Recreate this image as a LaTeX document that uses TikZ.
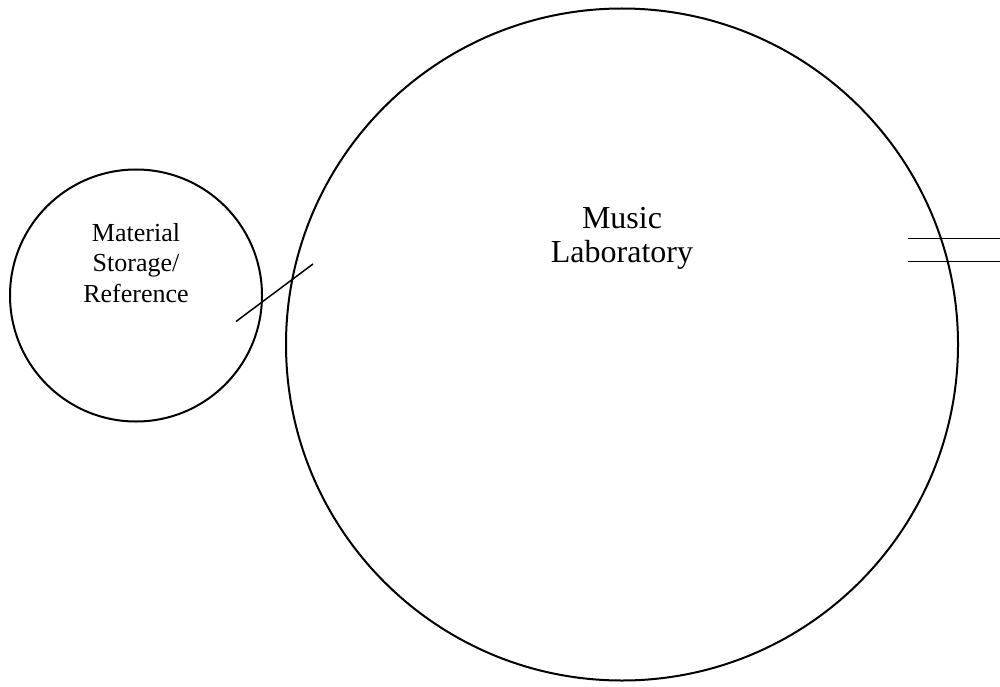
\documentclass[tikz,border=0pt]{standalone}
\usepackage{fontspec}
\setmainfont{Liberation Serif}
\begin{document}
\begin{tikzpicture}[x=1pt,y=-1pt,
  room/.style={circle,draw,line width=2pt,inner sep=0pt},
  wall/.style={line width=1.5pt}]
\useasboundingbox (0,0) rectangle (1000,687);
\node[room,minimum size=672pt] (lab) at (622,344.5) {};
\node[room,minimum size=252pt] (store) at (136,295.5) {};
\node[align=center,inner sep=0pt,font=\fontsize{32}{34}\selectfont] (labtxt) at (622,238.6) {Music\\Laboratory};
\node[align=center,inner sep=0pt,font=\fontsize{26}{30.5}\selectfont] (storetxt) at (136,262.7) {Material\\Storage/\\Reference};
\coordinate (d1) at (236,321.5);
\coordinate (d2) at (313,264);
\draw[wall] (d1) -- (d2);
\coordinate (h1a) at (908,238.3);
\coordinate (h1b) at (1000,238.3);
\coordinate (h2a) at (908,261.7);
\coordinate (h2b) at (1000,261.7);
\draw[wall] (h1a) -- (h1b);
\draw[wall] (h2a) -- (h2b);
\end{tikzpicture}
\end{document}
